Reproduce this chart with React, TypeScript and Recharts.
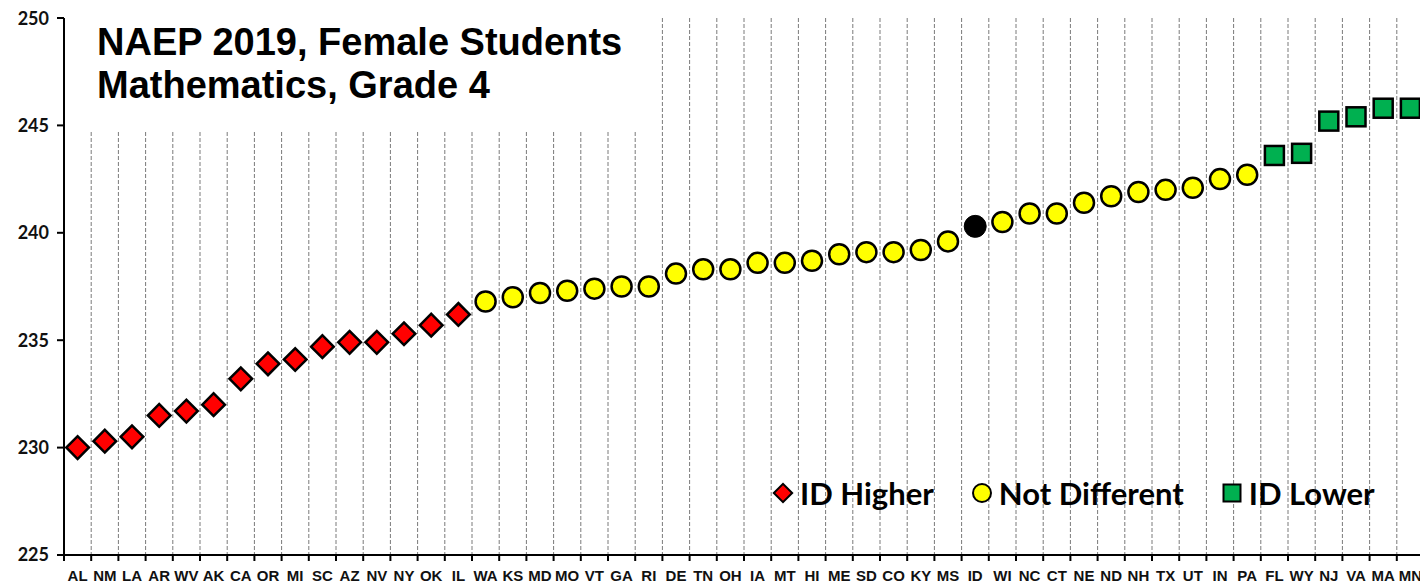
import { CartesianGrid, ComposedChart, Line, XAxis, YAxis } from 'recharts'

// states in ranked order, with their average scale scores
const STATES = [
  'AL', 'NM', 'LA', 'AR', 'WV', 'AK', 'CA', 'OR', 'MI', 'SC',
  'AZ', 'NV', 'NY', 'OK', 'IL', 'WA', 'KS', 'MD', 'MO', 'VT',
  'GA', 'RI', 'DE', 'TN', 'OH', 'IA', 'MT', 'HI', 'ME', 'SD',
  'CO', 'KY', 'MS', 'ID', 'WI', 'NC', 'CT', 'NE', 'ND', 'NH',
  'TX', 'UT', 'IN', 'PA', 'FL', 'WY', 'NJ', 'VA', 'MA', 'MN',
]
const SCORES = [
  230.0, 230.3, 230.5, 231.5, 231.7, 232.0, 233.2, 233.9, 234.1, 234.7,
  234.9, 234.9, 235.3, 235.7, 236.2, 236.8, 237.0, 237.2, 237.3, 237.4,
  237.5, 237.5, 238.1, 238.3, 238.3, 238.6, 238.6, 238.7, 239.0, 239.1,
  239.1, 239.2, 239.6, 240.3, 240.5, 240.9, 240.9, 241.4, 241.7, 241.9,
  242.0, 242.1, 242.5, 242.7, 243.6, 243.7, 245.2, 245.4, 245.8, 245.8,
]
const HIGHER_STATES = ['AL', 'NM', 'LA', 'AR', 'WV', 'AK', 'CA', 'OR', 'MI', 'SC', 'AZ', 'NV', 'NY', 'OK', 'IL']
const LOWER_STATES = ['FL', 'WY', 'NJ', 'VA', 'MA', 'MN']
const FOCUS_STATE = 'ID'
const Y_TICKS = [225, 230, 235, 240, 245, 250]
const TITLE_LINES = ['NAEP 2019, Female Students', 'Mathematics, Grade 4']
const LEGEND_ITEMS = [
  { label: 'ID Higher', shape: 'diamond' },
  { label: 'Not Different', shape: 'circle' },
  { label: 'ID Lower', shape: 'square' },
]

const RED = '#ff0000'
const YELLOW = '#ffff00'
const GREEN = '#00b050'

const CHART_W = 1420
const CHART_H = 578
const MARGIN = { top: 10, right: 4, bottom: 0, left: 0 }
const Y_AXIS_W = 56
const BAND = (CHART_W - MARGIN.left - MARGIN.right - Y_AXIS_W) / STATES.length
const TICK_SIZE = 6
const TICK_MARGIN = 2

const rows = STATES.map((state, i) => {
  const score = SCORES[i]
  const isFocus = state === FOCUS_STATE
  const isHigher = HIGHER_STATES.includes(state)
  const isLower = LOWER_STATES.includes(state)
  return {
    state,
    higher: isHigher ? score : null,
    lower: isLower ? score : null,
    focus: isFocus ? score : null,
    same: !isFocus && !isHigher && !isLower ? score : null,
  }
})

const diamondDot = (p: any) => {
  if (p.cy == null || p.value == null) return <g key={`h-${p.index}`} />
  return (
    <rect key={`h-${p.index}`} x={p.cx - 8} y={p.cy - 8} width={16} height={16}
      transform={`rotate(45 ${p.cx} ${p.cy})`} fill={RED} stroke="#000" strokeWidth={2.5} />
  )
}
const circleDot = (p: any) => {
  if (p.cy == null || p.value == null) return <g key={`s-${p.index}`} />
  return <circle key={`s-${p.index}`} cx={p.cx} cy={p.cy} r={10} fill={YELLOW} stroke="#000" strokeWidth={2.5} />
}
const focusDot = (p: any) => {
  if (p.cy == null || p.value == null) return <g key={`f-${p.index}`} />
  return <circle key={`f-${p.index}`} cx={p.cx} cy={p.cy} r={11} fill="#000" stroke="#000" strokeWidth={1} />
}
const squareDot = (p: any) => {
  if (p.cy == null || p.value == null) return <g key={`l-${p.index}`} />
  return (
    <rect key={`l-${p.index}`} x={p.cx - 9.5} y={p.cy - 9.5} width={19} height={19}
      fill={GREEN} stroke="#000" strokeWidth={2.5} />
  )
}

// state label plus the tick marks that sit between categories
const StateTick = ({ x, y, payload, index }: any) => {
  const axisY = y - TICK_SIZE - TICK_MARGIN
  const left = x - BAND / 2
  return (
    <g>
      <line x1={left} x2={left} y1={axisY} y2={axisY + 6} stroke="#000" strokeWidth={2} />
      {index === STATES.length - 1 && (
        <line x1={x + BAND / 2} x2={x + BAND / 2} y1={axisY} y2={axisY + 6} stroke="#000" strokeWidth={2} />
      )}
      <text x={x} y={axisY + 26} textAnchor="middle" fill="#111"
        style={{ fontFamily: "'Liberation Sans Narrow', 'Liberation Sans', Arial", fontWeight: 700, fontSize: 15 }}>
        {payload.value}
      </text>
    </g>
  )
}

const LegendMarker = ({ shape }: { shape: string }) => (
  <svg width={22} height={22}>
    {shape === 'diamond' && (
      <rect x={4.5} y={4.5} width={13} height={13} transform="rotate(45 11 11)" fill={RED} stroke="#000" strokeWidth={2} />
    )}
    {shape === 'circle' && <circle cx={11} cy={11} r={9} fill={YELLOW} stroke="#000" strokeWidth={2} />}
    {shape === 'square' && <rect x={2.5} y={2.5} width={17} height={17} fill={GREEN} stroke="#000" strokeWidth={2} />}
  </svg>
)

export default function App() {
  return (
    <div style={{ position: 'relative', width: 1420, height: 586, overflow: 'hidden', background: '#fff' }}>
      <style>{'body { margin: 0; }'}</style>
      <div style={{ position: 'absolute', left: 8, top: 8, width: CHART_W, height: CHART_H }}>
        <ComposedChart width={CHART_W} height={CHART_H} data={rows} margin={MARGIN}>
          <CartesianGrid
            horizontal={false}
            vertical
            stroke="#7a7a7a"
            strokeDasharray="4 2"
            verticalCoordinatesGenerator={({ offset }: any) =>
              STATES.slice(1).map((_, i) => offset.left + ((i + 1) * offset.width) / STATES.length)
            }
          />
          <XAxis
            dataKey="state"
            interval={0}
            padding={{ left: BAND / 2, right: BAND / 2 }}
            height={CHART_H - MARGIN.top - 537}
            tickLine={false}
            tickSize={TICK_SIZE}
            tickMargin={TICK_MARGIN}
            axisLine={{ stroke: '#000', strokeWidth: 2 }}
            tick={<StateTick />}
          />
          <YAxis
            width={Y_AXIS_W}
            domain={[225, 250]}
            ticks={Y_TICKS}
            allowDataOverflow
            tickSize={7}
            tickMargin={8}
            axisLine={{ stroke: '#000', strokeWidth: 2 }}
            tickLine={{ stroke: '#000', strokeWidth: 2 }}
            tick={{ fill: '#111', fontFamily: 'Lato, Carlito, sans-serif', fontWeight: 700, fontSize: 18 }}
          />
          <Line dataKey="higher" stroke="none" dot={diamondDot} activeDot={false} isAnimationActive={false} />
          <Line dataKey="same" stroke="none" dot={circleDot} activeDot={false} isAnimationActive={false} />
          <Line dataKey="focus" stroke="none" dot={focusDot} activeDot={false} isAnimationActive={false} />
          <Line dataKey="lower" stroke="none" dot={squareDot} activeDot={false} isAnimationActive={false} />
        </ComposedChart>

        {/* title box sits on top of the grid */}
        <div
          style={{
            position: 'absolute', left: 58, top: 2, width: 588, height: 121, background: '#fff',
            fontFamily: "'Liberation Sans', Arial, sans-serif", fontWeight: 700, fontSize: 38,
            lineHeight: '43px', color: '#000', paddingLeft: 31, paddingTop: 11, boxSizing: 'border-box',
          }}
        >
          {TITLE_LINES.map((t) => (
            <div key={t}>{t}</div>
          ))}
        </div>

        <div
          style={{
            position: 'absolute', left: 764, top: 465, height: 40, display: 'flex', alignItems: 'center',
            gap: 37, fontFamily: 'Lato, Carlito, sans-serif', fontWeight: 700, fontSize: 31, color: '#000',
          }}
        >
          {LEGEND_ITEMS.map((it) => (
            <div key={it.label} style={{ display: 'flex', alignItems: 'center', gap: 6 }}>
              <LegendMarker shape={it.shape} />
              <span>{it.label}</span>
            </div>
          ))}
        </div>
      </div>
    </div>
  )
}
